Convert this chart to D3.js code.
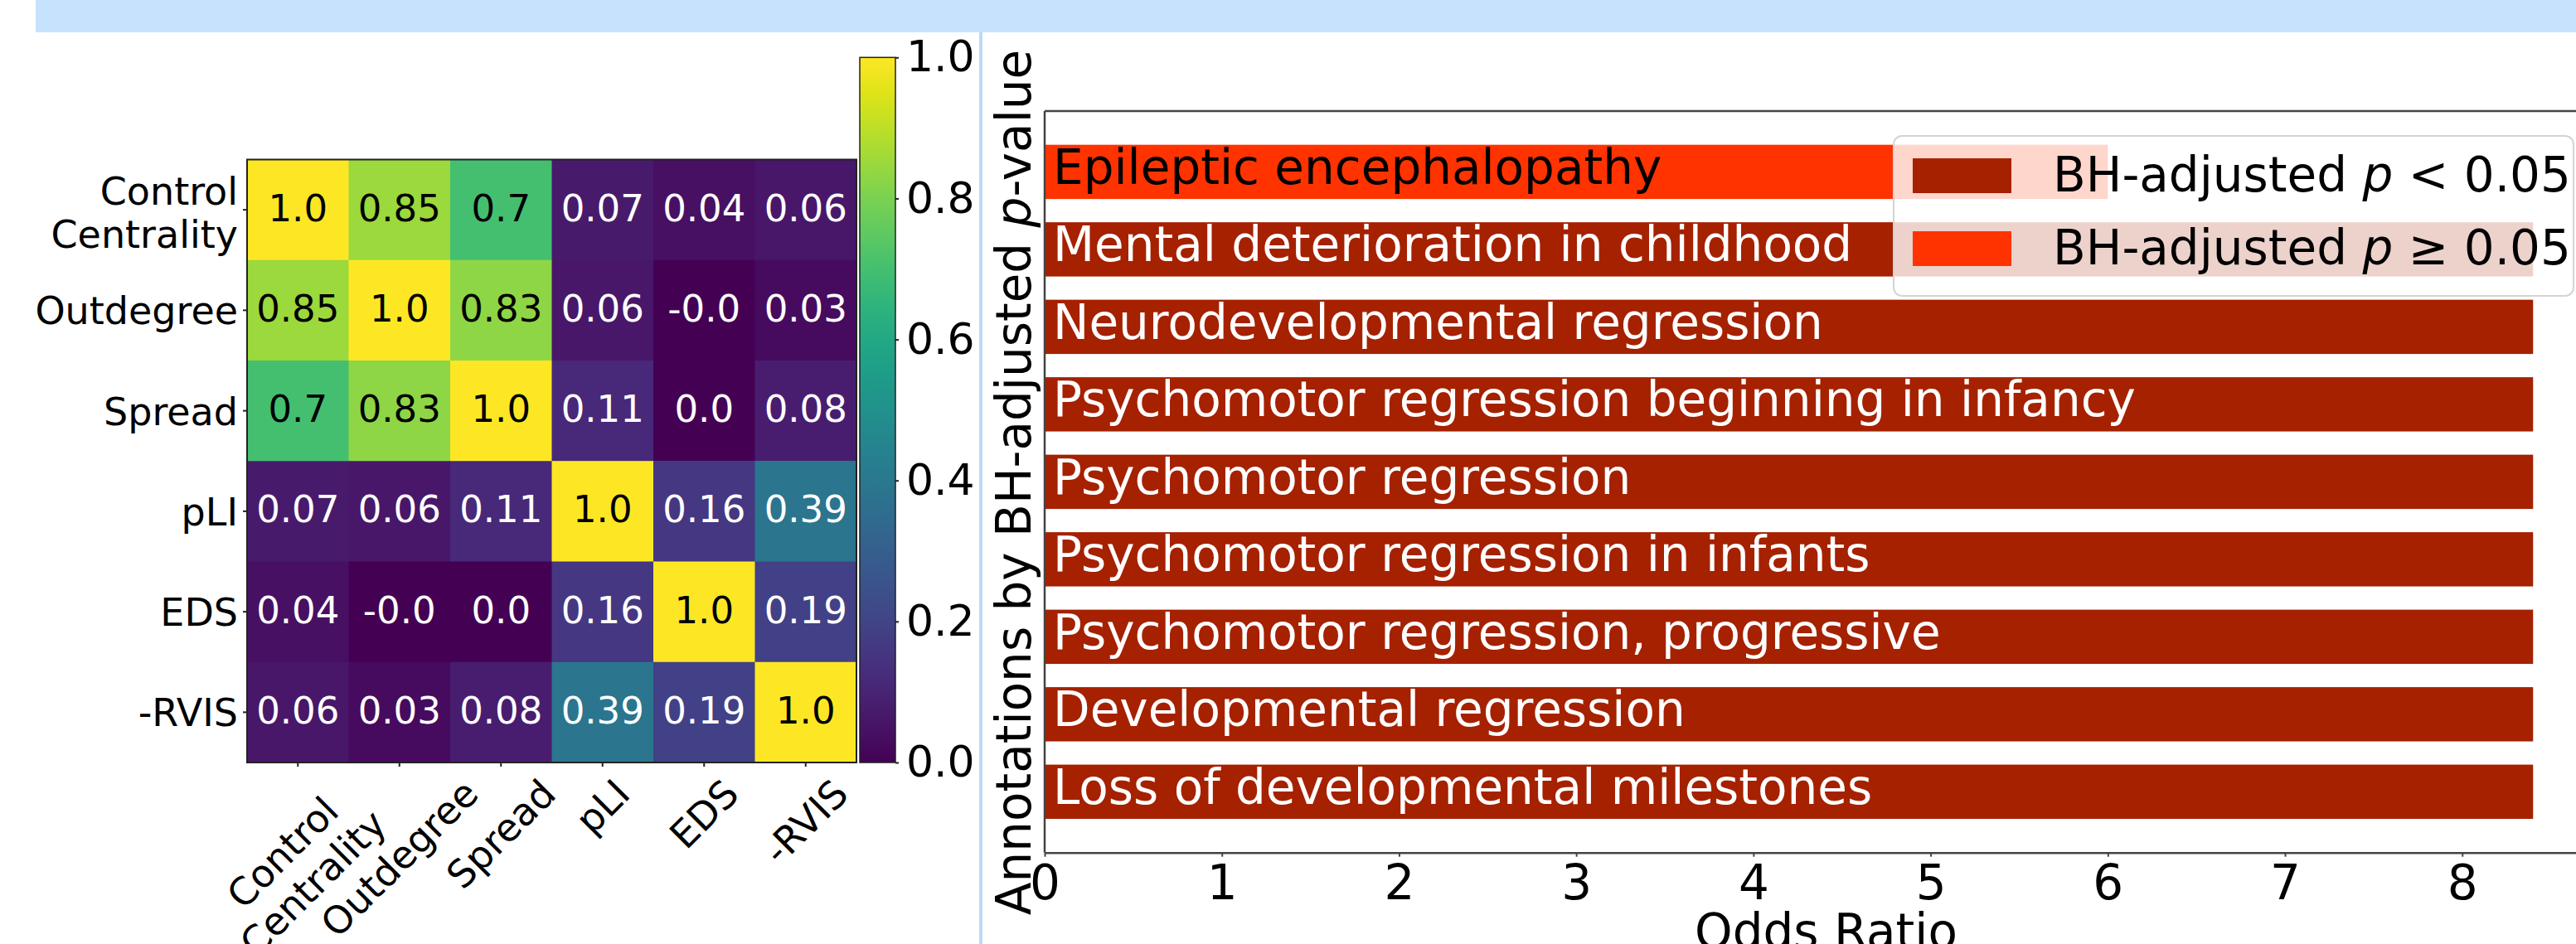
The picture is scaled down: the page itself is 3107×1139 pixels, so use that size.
<!DOCTYPE html>
<html>
<head>
<meta charset="utf-8">
<script src="https://cdn.jsdelivr.net/npm/d3@7"></script>
<style>
  html, body { margin: 0; padding: 0; background: #fff; overflow: hidden; }
  svg { display: block; font-family: "DejaVu Sans", sans-serif; }
</style>
</head>
<body>
<svg id="fig" width="3107" height="1139"></svg>
<script>
// left panel: correlation heatmap
const features = ["Control\nCentrality", "Outdegree", "Spread", "pLI", "EDS", "-RVIS"];
const corrRows = [
  [1.0, 0.85, 0.7, 0.07, 0.04, 0.06],
  [0.85, 1.0, 0.83, 0.06, -0.004, 0.03],
  [0.7, 0.83, 1.0, 0.11, 0.003, 0.08],
  [0.07, 0.06, 0.11, 1.0, 0.16, 0.39],
  [0.04, -0.004, 0.003, 0.16, 1.0, 0.19],
  [0.06, 0.03, 0.08, 0.39, 0.19, 1.0]
];
const cbarTicks = [0, 0.2, 0.4, 0.6, 0.8, 1.0];

// right panel: odds ratios of annotations (top to bottom)
const annotations = [
  "Epileptic encephalopathy",
  "Mental deterioration in childhood",
  "Neurodevelopmental regression",
  "Psychomotor regression beginning in infancy",
  "Psychomotor regression",
  "Psychomotor regression in infants",
  "Psychomotor regression, progressive",
  "Developmental regression",
  "Loss of developmental milestones"
];
const oddsRatios = [6.0, 8.4, 8.4, 8.4, 8.4, 8.4, 8.4, 8.4, 8.4];
const significant = [false, true, true, true, true, true, true, true, true];
const orTicks = [0, 1, 2, 3, 4, 5, 6, 7, 8];
const legendItems = [
  { sig: true, rel: "<" },
  { sig: false, rel: "\u2265" }
];

const darkRed = "#a52100", brightRed = "#ff3300";
const svg = d3.select("#fig");

// page decoration (blue band on top and divider)
svg.append("rect").attr("x", 43).attr("y", 0).attr("width", 3064).attr("height", 39).attr("fill", "#c7e2fc");
svg.append("rect").attr("x", 1181).attr("y", 39).attr("width", 4).attr("height", 1100).attr("fill", "#bcd9f8");

// ---------- heatmap ----------
const hx = d3.scaleBand().domain(d3.range(features.length)).range([298, 1033]);
const hy = d3.scaleBand().domain(d3.range(features.length)).range([192.5, 920]);
const color = d3.scaleSequential(d3.interpolateViridis).domain([0, 1]).clamp(true);

function pyFmt(v) {
  const r = Math.round(v * 100) / 100;
  if (r === 0) return (v < 0 ? "-" : "") + "0.0";
  let s = String(r);
  if (s.indexOf(".") < 0) s += ".0";
  return s;
}

const cells = [];
corrRows.forEach((row, i) => row.forEach((v, j) => cells.push({ i, j, v })));

const hm = svg.append("g");
hm.selectAll("rect.cell").data(cells).join("rect")
  .attr("class", "cell")
  .attr("x", d => hx(d.j)).attr("y", d => hy(d.i))
  .attr("width", hx.bandwidth() + 0.5).attr("height", hy.bandwidth() + 0.5)
  .attr("fill", d => color(d.v));

hm.selectAll("text.ann").data(cells).join("text")
  .attr("class", "ann")
  .attr("x", d => hx(d.j) + hx.bandwidth() / 2)
  .attr("y", d => hy(d.i) + hy.bandwidth() / 2)
  .attr("dy", "0.3em")
  .attr("text-anchor", "middle")
  .attr("font-size", 45)
  .attr("fill", d => d.v > 0.5 ? "#000" : "#fff")
  .text(d => pyFmt(d.v));

hm.append("rect").attr("x", 298).attr("y", 192.5).attr("width", 735).attr("height", 727.5)
  .attr("fill", "none").attr("stroke", "#222").attr("stroke-width", 2);

// left tick labels
features.forEach((f, i) => {
  const cy = hy(i) + hy.bandwidth() / 2;
  hm.append("line").attr("x1", 293).attr("x2", 298).attr("y1", cy).attr("y2", cy).attr("stroke", "#222").attr("stroke-width", 2);
  const lines = f.split("\n");
  const t = hm.append("text").attr("text-anchor", "end").attr("font-size", 46);
  lines.forEach((ln, k) => {
    t.append("tspan").attr("x", 287)
      .attr("y", cy + 17 + (k - (lines.length - 1) / 2) * 52 + (lines.length > 1 ? 3 : 0))
      .text(ln);
  });
});

// bottom tick labels, rotated 45 degrees
features.forEach((f, j) => {
  const cx = hx(j) + hx.bandwidth() / 2;
  hm.append("line").attr("x1", cx).attr("x2", cx).attr("y1", 920).attr("y2", 925).attr("stroke", "#222").attr("stroke-width", 2);
  const lines = f.split("\n");
  const g = hm.append("g");
  const t = g.append("text").attr("text-anchor", "middle").attr("font-size", 46);
  lines.forEach((ln, k) => {
    t.append("tspan").attr("x", 0).attr("y", (k - (lines.length - 1) / 2) * 52).attr("dy", "0.35em").text(ln);
  });
  const bb = t.node().getBBox();
  const diag = (bb.width + bb.height) * Math.SQRT1_2;
  g.attr("transform", `translate(${cx},${930 + diag / 2}) rotate(-45)`);
});

// colorbar
const cb = svg.append("g");
const cbY = d3.scaleLinear().domain([0, 1]).range([920, 69.3]);
const grad = svg.append("defs").append("linearGradient").attr("id", "vir")
  .attr("x1", 0).attr("y1", 1).attr("x2", 0).attr("y2", 0);
d3.range(0, 1.0001, 0.05).forEach(s => grad.append("stop").attr("offset", s).attr("stop-color", color(s)));
cb.append("rect").attr("x", 1037).attr("y", 69.3).attr("width", 43).attr("height", 920 - 69.3)
  .attr("fill", "url(#vir)").attr("stroke", "#222").attr("stroke-width", 1.5);
const cbAxis = cb.append("g").attr("transform", "translate(1080,0)")
  .call(d3.axisRight(cbY).tickValues(cbarTicks).tickFormat(d3.format(".1f")).tickSize(4).tickPadding(9));
cbAxis.select(".domain").remove();
cbAxis.selectAll("line").attr("stroke", "#222").attr("stroke-width", 2);
cbAxis.selectAll("text").attr("font-size", 52).attr("font-family", "DejaVu Sans").attr("fill", "#000");

// ---------- bar chart ----------
const n = annotations.length;
const barH = 0.7;
const pad = (n - 1 + barH) * 0.05;
const bx = d3.scaleLinear().domain([0, d3.max(oddsRatios) * 1.05]).range([1260, 3145]);
const by = d3.scaleLinear().domain([-barH / 2 - pad, n - 1 + barH / 2 + pad]).range([1028.7, 134]);
const pos = i => n - 1 - i;

const bars = svg.append("g");
bars.selectAll("rect").data(annotations).join("rect")
  .attr("x", bx(0))
  .attr("y", (d, i) => by(pos(i) + barH / 2))
  .attr("width", (d, i) => bx(oddsRatios[i]) - bx(0))
  .attr("height", by(0) - by(barH))
  .attr("fill", (d, i) => significant[i] ? darkRed : brightRed);

bars.selectAll("text").data(annotations).join("text")
  .attr("x", bx(0) + 10)
  .attr("y", (d, i) => by(pos(i)))
  .attr("dy", "0.25em")
  .attr("font-size", 58)
  .attr("fill", (d, i) => significant[i] ? "#fff" : "#000")
  .text(d => d);

// spines
const sp = svg.append("g").attr("stroke", "#444").attr("stroke-width", 2.5);
sp.append("line").attr("x1", 1260).attr("x2", 3145).attr("y1", 134).attr("y2", 134);
sp.append("line").attr("x1", 1260).attr("x2", 1260).attr("y1", 134).attr("y2", 1028.7);

const xAxis = svg.append("g").attr("transform", "translate(0,1028.7)")
  .call(d3.axisBottom(bx).tickValues(orTicks).tickFormat(d3.format("d")).tickSize(5).tickPadding(10).tickSizeOuter(0));
xAxis.select(".domain").attr("stroke", "#444").attr("stroke-width", 2.5);
xAxis.selectAll(".tick line").attr("stroke", "#444").attr("stroke-width", 2);
xAxis.selectAll("text").attr("font-size", 58).attr("font-family", "DejaVu Sans").attr("fill", "#000");

svg.append("text").attr("x", (1260 + 3145) / 2).attr("y", 1144).attr("text-anchor", "middle")
  .attr("font-size", 58).text("Odds Ratio");

const yl = svg.append("text").attr("transform", "translate(1243,582) rotate(-90)")
  .attr("text-anchor", "middle").attr("font-size", 58);
yl.append("tspan").text("Annotations by BH-adjusted ");
yl.append("tspan").attr("font-style", "italic").text("p");
yl.append("tspan").text("-value");

// legend
const lg = svg.append("g");
lg.append("rect").attr("x", 2284).attr("y", 164).attr("width", 820).attr("height", 193).attr("rx", 10)
  .attr("fill", "#fff").attr("fill-opacity", 0.8).attr("stroke", "#d4d4d4").attr("stroke-width", 2);
legendItems.forEach((it, k) => {
  const y0 = 191 + k * 88;
  lg.append("rect").attr("x", 2307).attr("y", y0).attr("width", 119).attr("height", 42)
    .attr("fill", it.sig ? darkRed : brightRed);
  const t = lg.append("text").attr("x", 2476).attr("y", y0 + 40).attr("font-size", 58);
  t.append("tspan").text("BH-adjusted ");
  t.append("tspan").attr("font-style", "italic").text("p");
  t.append("tspan").text(" " + it.rel + " 0.05");
});
</script>
</body>
</html>
